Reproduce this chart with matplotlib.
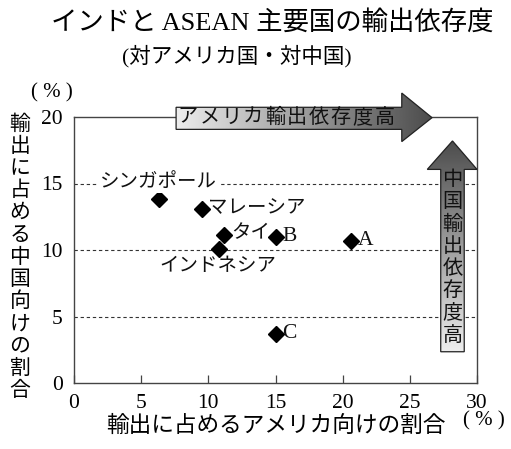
import numpy as np
import matplotlib
matplotlib.use("Agg")
import matplotlib.pyplot as plt
from matplotlib.patches import Polygon

plt.rcParams['font.family'] = ['Liberation Serif', 'Noto Sans CJK JP', 'DejaVu Sans']

# data (% of exports)
countries = ['シンガポール', 'マレーシア', 'タイ', 'インドネシア', 'B', 'A', 'C']
us_share = [6.3, 9.5, 11.2, 10.8, 15.0, 20.6, 15.0]
cn_share = [13.8, 13.1, 11.1, 10.1, 11.0, 10.7, 3.7]
xticks = [0, 5, 10, 15, 20, 25, 30]
yticks = [0, 5, 10, 15, 20]

W, H = 511, 449
fig = plt.figure(figsize=(W / 100, H / 100), dpi=100)
L, R, B, T = 74 / W, 477 / W, 1 - 383 / H, 1 - 117 / H
ax = fig.add_axes([L, B, R - L, T - B])
ax.set_xlim(0, 30)
ax.set_ylim(0, 20)

for sp in ax.spines.values():
    sp.set_color('#444444')
    sp.set_linewidth(1.0)

ax.set_xticks(xticks)
ax.set_yticks(yticks)
ax.tick_params(axis='x', direction='in', length=6, width=0.9, color='#444444',
               pad=8, labelsize=15.5)
ax.tick_params(axis='y', length=0, pad=8, labelsize=15.5)

for g in [5, 10, 15]:
    ax.axhline(g, color='#333333', lw=0.8, ls=(0, (3, 2.5)), zorder=1)

ax.plot(us_share, cn_share, 'D', color='black', ms=8.5, zorder=3, clip_on=False)

# point labels
lab = dict(fontsize=14, color='#111111', zorder=4)
ax.text(6.3, 15.1, countries[0], ha='center', va='center',
        bbox=dict(facecolor='white', edgecolor='none', pad=1.5), **lab)
ax.text(us_share[1] + 0.5, cn_share[1], countries[1], ha='left', va='center', **lab)
ax.text(us_share[2] + 0.5, cn_share[2] + 0.1, countries[2], ha='left', va='center', **lab)
ax.text(10.7, 8.75, countries[3], ha='center', va='center', **lab)
ax.text(us_share[4] + 0.5, cn_share[4], countries[4], ha='left', va='center',
        fontsize=15.5, color='#111111')
ax.text(us_share[5] + 0.5, cn_share[5], countries[5], ha='left', va='center',
        fontsize=15.5, color='#111111')
ax.text(us_share[6] + 0.5, cn_share[6], countries[6], ha='left', va='center',
        fontsize=15.5, color='#111111')

# overlay axes in the same data units for the gradient arrows
ov = fig.add_axes([0, 0, 1, 1], zorder=5)
ov.patch.set_alpha(0)
ov.axis('off')
ox0 = -L / (R - L) * 30
oy0 = -B / (T - B) * 20


def reset_limits():
    ov.set_xlim(ox0, ox0 + 30 / (R - L))
    ov.set_ylim(oy0, oy0 + 20 / (T - B))


def grad_arrow(verts, vertical):
    poly = Polygon(verts, closed=True, facecolor='none', edgecolor='#222222', lw=0.9, zorder=6)
    ov.add_patch(poly)
    xs = [v[0] for v in verts]
    ys = [v[1] for v in verts]
    g = np.linspace(0.93, 0.30, 256)
    img = g[:, None] if vertical else g[None, :]
    origin = 'lower' if vertical else 'upper'
    im = ov.imshow(img, cmap='gray', vmin=0, vmax=1, aspect='auto', origin=origin,
                   extent=[min(xs), max(xs), min(ys), max(ys)], zorder=5,
                   interpolation='bilinear')
    im.set_clip_path(poly)
    reset_limits()


# horizontal arrow: USA dependence
hx0, hx1, htip = 7.6, 24.4, 26.65
hy0, hy1, hh0, hh1 = 19.07, 20.73, 18.15, 21.8
grad_arrow([(hx0, hy0), (hx1, hy0), (hx1, hh0), (htip, 19.95), (hx1, hh1),
            (hx1, hy1), (hx0, hy1)], vertical=False)

htext = 'アメリカ輸出依存度高'
for i, ch in enumerate(htext):
    ov.text(hx0 + 0.85 + i * 1.63, (hy0 + hy1) / 2, ch, ha='center', va='center',
            fontsize=14.5, color='#111111', zorder=7)

# vertical arrow: China dependence
vx0, vx1, vh0, vh1 = 27.3, 29.05, 26.3, 30.0
vy0, vy1, vtip = 2.35, 16.06, 18.2
grad_arrow([(vx0, vy0), (vx1, vy0), (vx1, vy1), (vh1, vy1), ((vx0 + vx1) / 2, vtip),
            (vh0, vy1), (vx0, vy1)], vertical=True)

vtext = '中国輸出依存度高'
for i, ch in enumerate(vtext):
    ov.text((vx0 + vx1) / 2, vy1 - 0.85 - i * 1.67, ch, ha='center', va='center',
            fontsize=14.5, color='#111111', zorder=7)

# titles and axis labels
fig.text(272 / W, 1 - 22 / H, 'インドと ASEAN 主要国の輸出依存度', ha='center', va='center',
         fontsize=19)
fig.text(237 / W, 1 - 56 / H, '(対アメリカ国・対中国)', ha='center', va='center',
         fontsize=15.5)

ylab = '輸出に占める中国向けの割合'
for i, ch in enumerate(ylab):
    fig.text(20 / W, 1 - (125 + i * 22.2) / H, ch, ha='center', va='center', fontsize=15)
fig.text(52 / W, 1 - 93 / H, '( % )', ha='center', va='center', fontsize=15)

fig.text(276 / W, 1 - 426 / H, '輸出に占めるアメリカ向けの割合', ha='center', va='center',
         fontsize=16.3)
fig.text(484 / W, 1 - 421 / H, '( % )', ha='center', va='center', fontsize=15)

fig.savefig('out.png', dpi=100)
